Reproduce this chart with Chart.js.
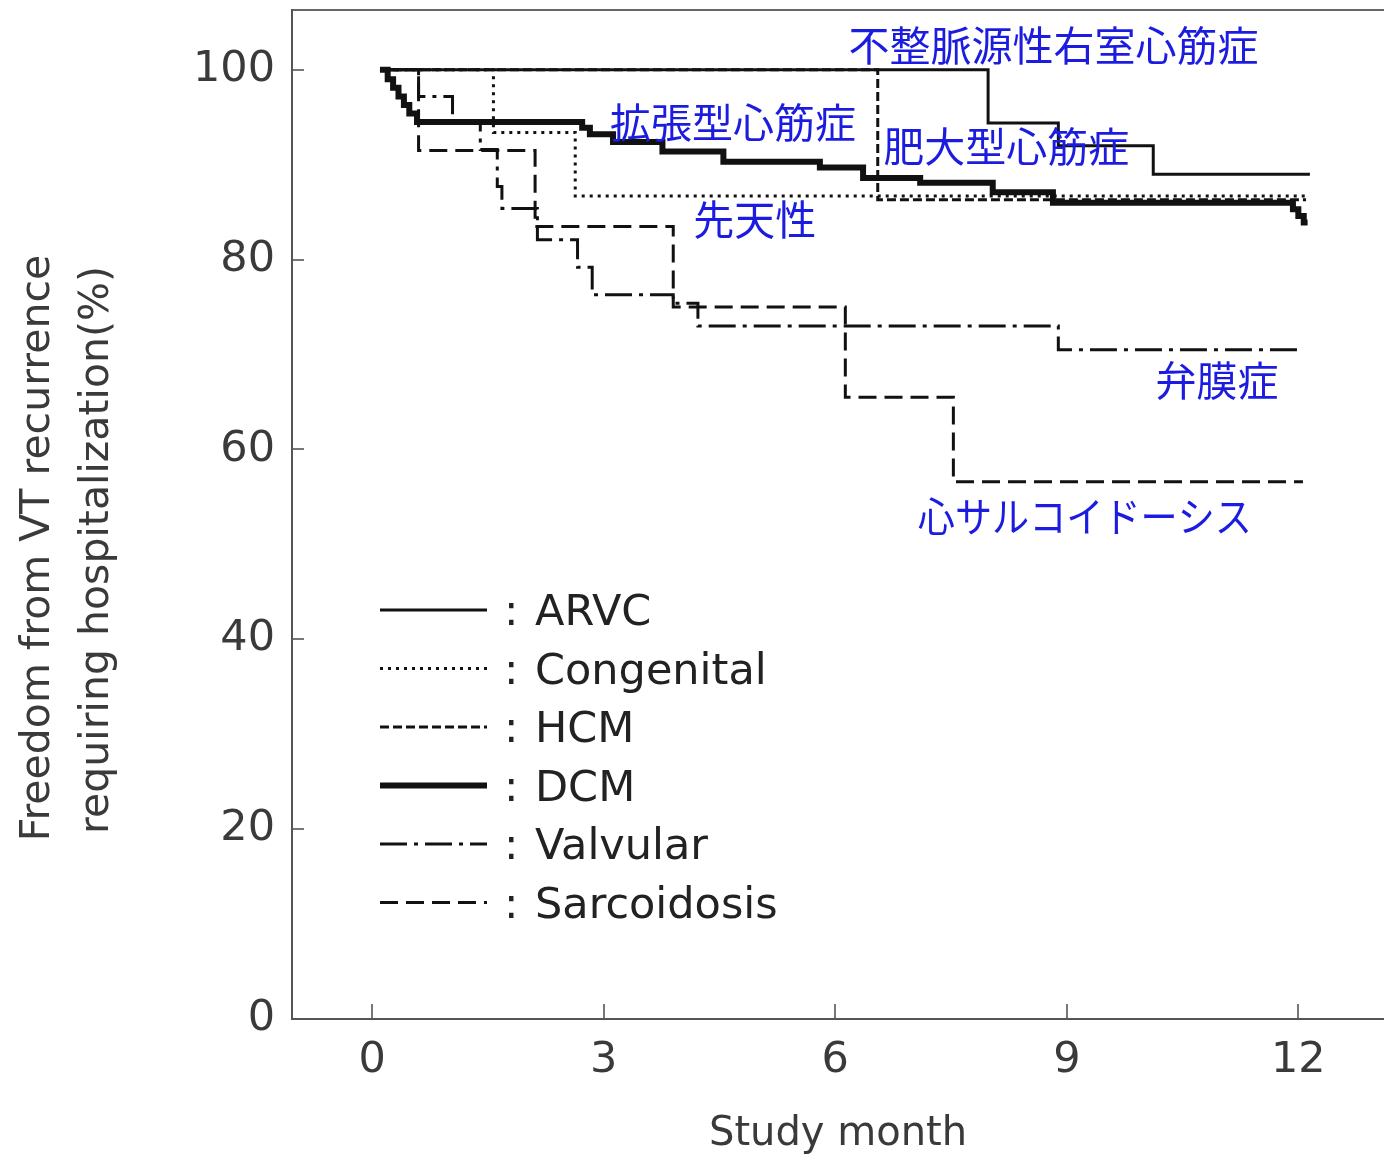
<!DOCTYPE html>
<html>
<head>
<meta charset="utf-8">
<script src="https://cdn.jsdelivr.net/npm/chart.js@4.4.1/dist/chart.umd.min.js"></script>
<style>
  html, body { margin: 0; padding: 0; background: #fff; }
  #wrap { width: 1384px; height: 1159px; }
</style>
</head>
<body>
<div id="wrap"><canvas id="km" width="1384" height="1159"></canvas></div>
<script>
// Kaplan-Meier steps: month of each event and freedom (%) right after it
const arvcMonths = [0.1, 7.98, 8.89, 10.12, 12.15];
const arvcValues = [100, 94.4, 92.0, 89.0, 89.0];

const congenitalMonths = [0.1, 1.57, 2.63, 12.1];
const congenitalValues = [100, 93.4, 86.7, 86.7];

const hcmMonths = [0.1, 6.55, 12.1];
const hcmValues = [100, 86.3, 86.3];

const dcmMonths = [0.1, 0.2, 0.27, 0.34, 0.41, 0.48, 0.58, 2.72, 2.82, 3.12, 3.76, 4.55, 5.8, 6.36, 7.1, 8.04, 8.82, 11.93, 12.0, 12.07, 12.12];
const dcmValues = [100, 99.0, 98.1, 97.2, 96.3, 95.4, 94.5, 93.9, 93.2, 92.4, 91.4, 90.3, 89.7, 88.6, 88.1, 87.1, 86.0, 85.3, 84.6, 83.9, 83.9];

const valvularMonths = [0.1, 0.6, 1.04, 1.4, 1.62, 1.68, 2.14, 2.66, 2.85, 3.9, 4.22, 8.89, 12.05];
const valvularValues = [100, 97.2, 94.5, 91.6, 87.7, 85.4, 82.1, 79.2, 76.3, 75.4, 73.0, 70.5, 70.5];

const sarcoidMonths = [0.1, 0.6, 2.11, 3.9, 6.13, 7.53, 12.06];
const sarcoidValues = [100, 91.5, 83.5, 75.0, 65.5, 56.6, 56.6];

const seriesNames = ["ARVC", "Congenital", "HCM", "DCM", "Valvular", "Sarcoidosis"];
const xTicks = [0, 3, 6, 9, 12];
const yTicks = [0, 20, 40, 60, 80, 100];
const xTitle = "Study month";
const yTitle = ["Freedom from VT recurrence", "requiring hospitalization(%)"];
const jpLabels = ["不整脈源性右室心筋症", "拡張型心筋症", "肥大型心筋症", "先天性", "弁膜症", "心サルコイドーシス"];

// layout / style settings
const jpLabelAt = [[6.17, 102.6], [3.08, 94.5], [6.62, 91.9], [4.16, 84.2], [10.15, 67.3], [7.07, 52.9]];
const jpLabelMaxWidth = [undefined, undefined, undefined, undefined, undefined, 334];
const lineStyles = [
  { width: 3, dash: [] },
  { width: 3, dash: [3, 5] },
  { width: 3, dash: [9, 4] },
  { width: 6, dash: [] },
  { width: 3, dash: [27, 7, 4, 7] },
  { width: 3, dash: [18, 8] },
];
const ink = "#111";
const axisGray = "#555";
const textGray = "#3a3a3a";
const jpBlue = "#1c1ce0";

const toPoints = (months, values) => months.map((m, i) => ({ x: m, y: values[i] }));
const series = [
  toPoints(arvcMonths, arvcValues),
  toPoints(congenitalMonths, congenitalValues),
  toPoints(hcmMonths, hcmValues),
  toPoints(dcmMonths, dcmValues),
  toPoints(valvularMonths, valvularValues),
  toPoints(sarcoidMonths, sarcoidValues),
];

const annotate = {
  id: "annotate",
  afterDatasetsDraw(chart) {
    const { ctx, scales: { x, y } } = chart;
    ctx.save();

    // disease names in Japanese
    ctx.font = '41px "Noto Sans CJK JP"';
    ctx.fillStyle = jpBlue;
    ctx.textAlign = "left";
    ctx.textBaseline = "middle";
    jpLabels.forEach((t, i) => {
      const px = x.getPixelForValue(jpLabelAt[i][0]);
      const py = y.getPixelForValue(jpLabelAt[i][1]);
      if (jpLabelMaxWidth[i]) ctx.fillText(t, px, py, jpLabelMaxWidth[i]);
      else ctx.fillText(t, px, py);
    });

    // legend with line samples
    chart.data.datasets.forEach((ds, i) => {
      const ly = 610 + i * 58.5;
      ctx.beginPath();
      ctx.setLineDash(ds.borderDash);
      ctx.lineWidth = ds.borderWidth;
      ctx.strokeStyle = ds.borderColor;
      ctx.moveTo(380, ly);
      ctx.lineTo(487, ly);
      ctx.stroke();
      ctx.setLineDash([]);
      ctx.fillStyle = "#222";
      ctx.font = '43px "DejaVu Sans"';
      ctx.fillText(":", 504, ly + 4);
      ctx.fillText(ds.label, 535, ly + 4);
    });

    // two-line y axis title
    ctx.font = '41px "DejaVu Sans"';
    ctx.fillStyle = textGray;
    ctx.textAlign = "center";
    [[38, 548], [97, 550]].forEach(([tx, ty], i) => {
      ctx.save();
      ctx.translate(tx, ty);
      ctx.rotate(-Math.PI / 2);
      ctx.fillText(yTitle[i], 0, 0);
      ctx.restore();
    });
    ctx.restore();
  },
};

new Chart(document.getElementById("km"), {
  type: "line",
  data: {
    datasets: series.map((pts, i) => ({
      label: seriesNames[i],
      data: pts,
      stepped: "before",
      borderColor: ink,
      borderWidth: lineStyles[i].width,
      borderDash: lineStyles[i].dash,
      pointRadius: 0,
      fill: false,
    })),
  },
  options: {
    responsive: false,
    devicePixelRatio: 1,
    animation: false,
    layout: { padding: { top: 10, right: 0, bottom: 0, left: 0 } },
    plugins: { legend: { display: false }, tooltip: { enabled: false } },
    scales: {
      x: {
        type: "linear",
        min: -1.04,
        max: 13.11,
        afterBuildTicks: s => { s.ticks = xTicks.map(v => ({ value: v })); },
        afterFit: s => { s.height = 140; s.paddingLeft = 0; s.paddingRight = 0; },
        grid: { drawOnChartArea: false, tickLength: -15, color: "#777", lineWidth: 2 },
        border: { color: axisGray, width: 2 },
        ticks: { padding: 31, color: textGray, maxRotation: 0, autoSkip: false, font: { family: "DejaVu Sans", size: 43 } },
        title: { display: true, text: xTitle, color: textGray, padding: { top: 0, bottom: 0 }, font: { family: "DejaVu Sans", size: 40 } },
      },
      top: {
        type: "linear",
        position: "top",
        min: -1.04,
        max: 13.11,
        afterFit: s => { s.height = 0; s.paddingLeft = 0; s.paddingRight = 0; },
        ticks: { display: false },
        grid: { display: false, drawTicks: false },
        border: { display: true, color: "#666", width: 2 },
      },
      y: {
        type: "linear",
        min: 0,
        max: 106.3,
        afterBuildTicks: s => { s.ticks = yTicks.map(v => ({ value: v })); },
        afterFit: s => { s.width = 292; s.paddingTop = 0; s.paddingBottom = 0; },
        grid: { drawOnChartArea: false, tickLength: -12, color: "#777", lineWidth: 2 },
        border: { color: axisGray, width: 2 },
        ticks: { padding: 29, color: textGray, font: { family: "DejaVu Sans", size: 43 } },
      },
    },
  },
  plugins: [annotate],
});
</script>
</body>
</html>
